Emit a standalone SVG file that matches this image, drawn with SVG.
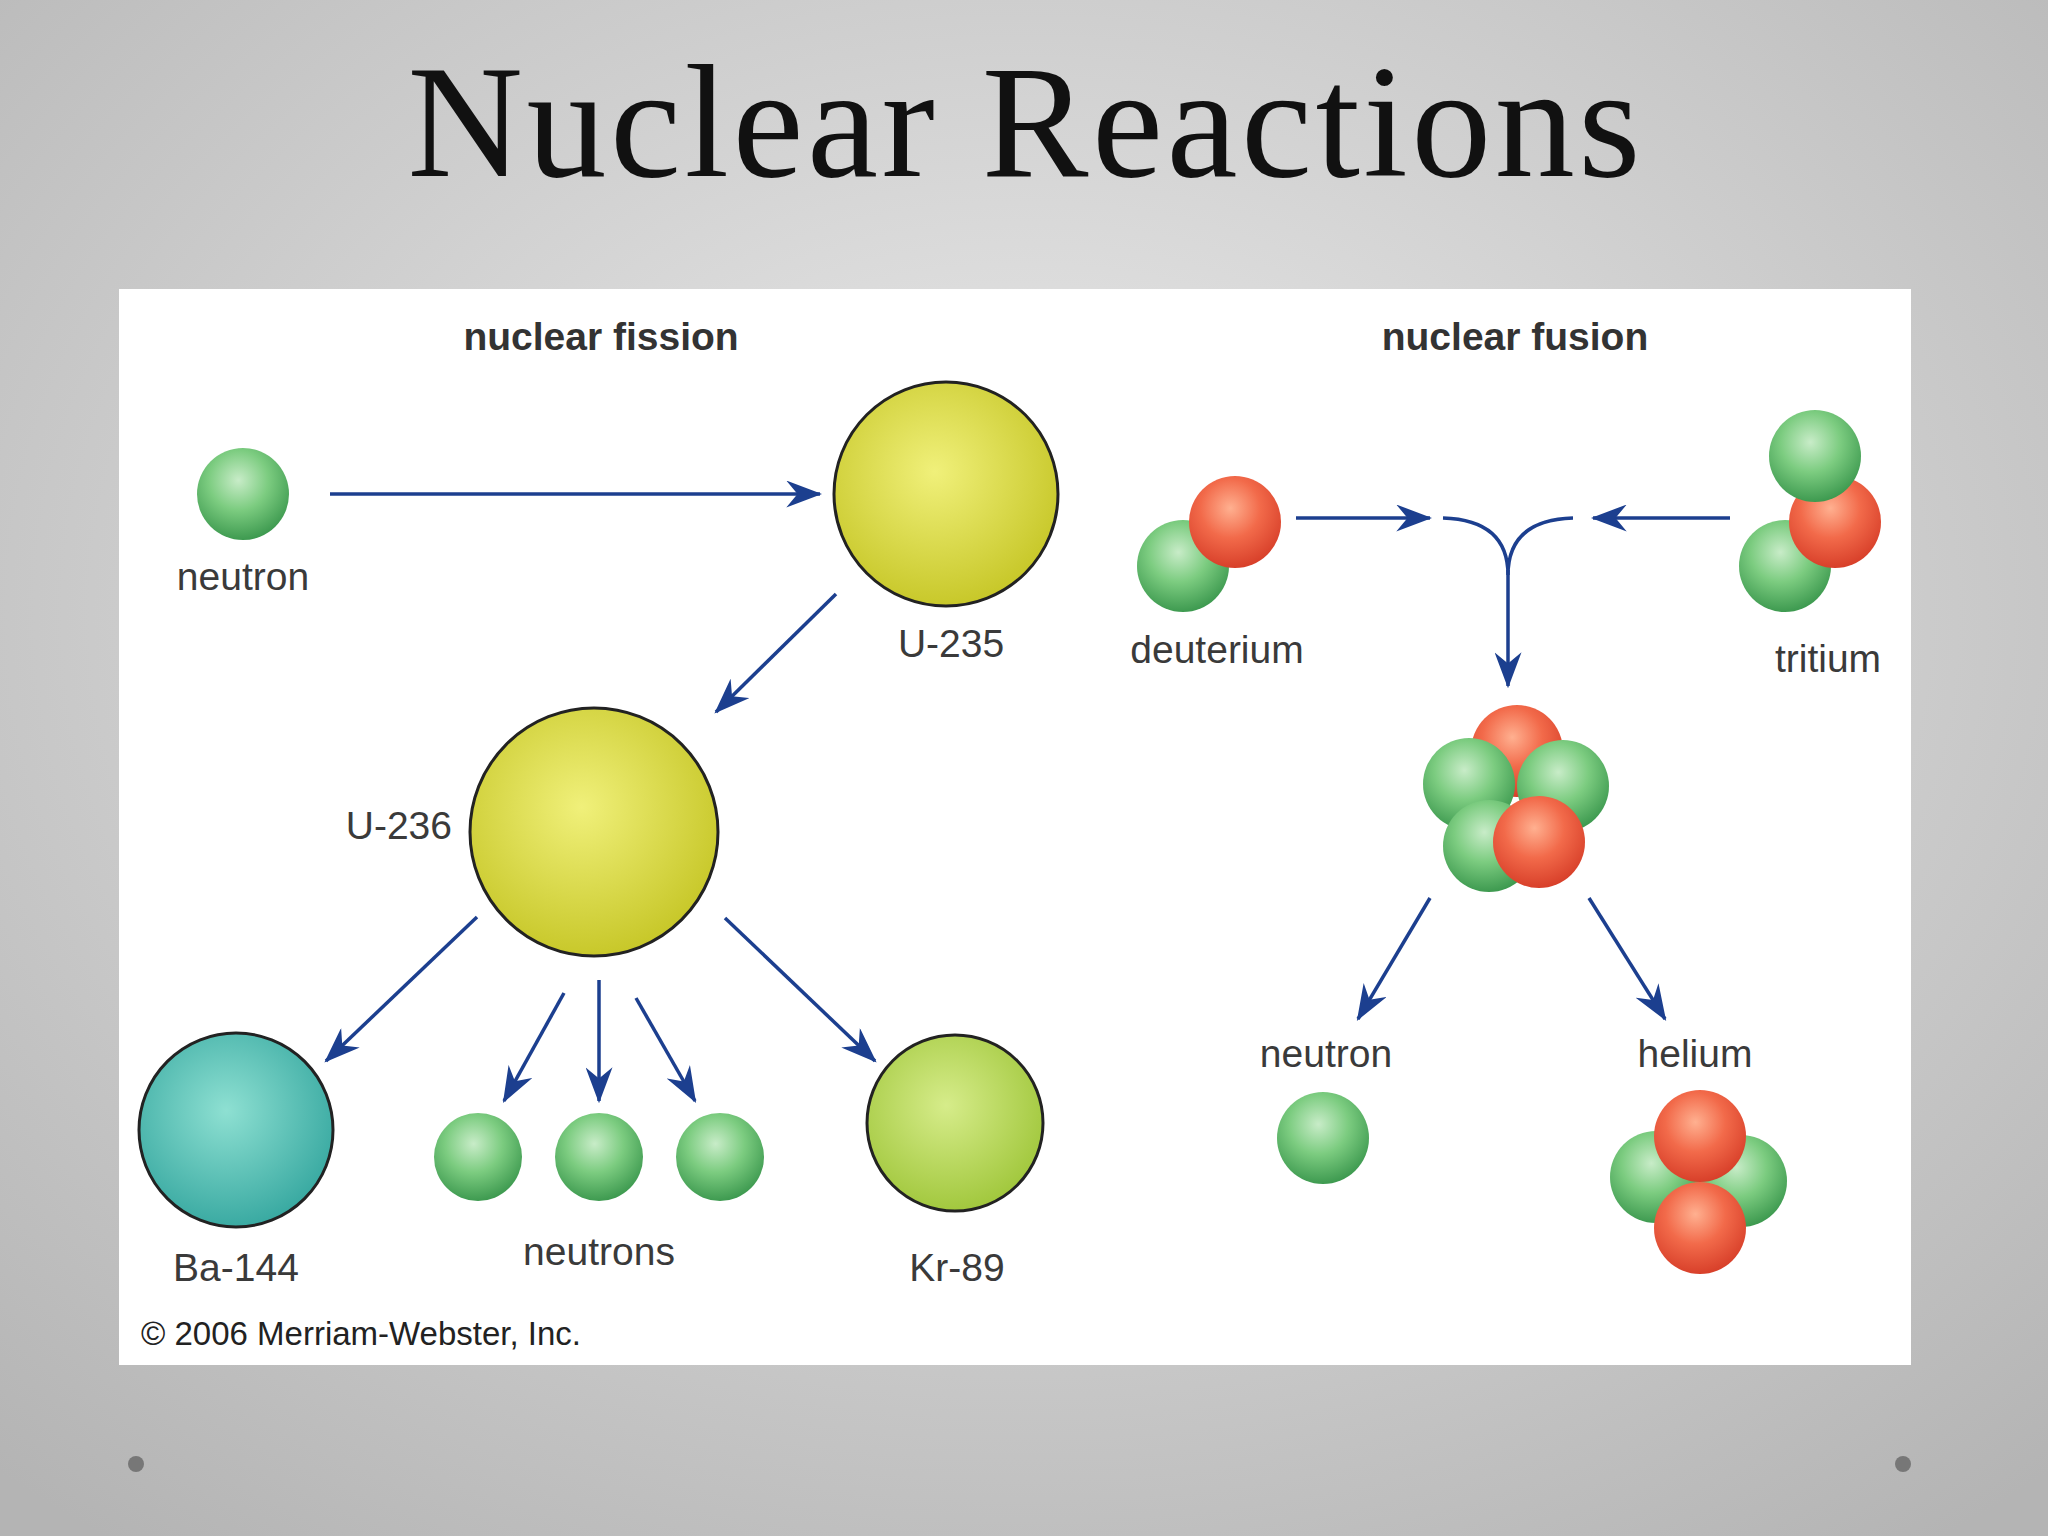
<svg xmlns="http://www.w3.org/2000/svg" width="2048" height="1536" viewBox="0 0 2048 1536">
<defs>
<radialGradient id="bg" cx="50%" cy="40%" r="75%"><stop offset="0" stop-color="#ececec"/><stop offset="1" stop-color="#b4b4b4"/></radialGradient>
<radialGradient id="gr" cx="45%" cy="35%" r="65%"><stop offset="0" stop-color="#c8ecc8"/><stop offset="0.5" stop-color="#7ccc80"/><stop offset="1" stop-color="#3e9a50"/></radialGradient>
<radialGradient id="rd" cx="45%" cy="35%" r="65%"><stop offset="0" stop-color="#ffb090"/><stop offset="0.5" stop-color="#f26a4a"/><stop offset="1" stop-color="#d8402a"/></radialGradient>
<radialGradient id="yl" cx="45%" cy="40%" r="60%"><stop offset="0" stop-color="#f0f07a"/><stop offset="1" stop-color="#c8c82a"/></radialGradient>
<radialGradient id="tl" cx="45%" cy="40%" r="60%"><stop offset="0" stop-color="#8ee0d2"/><stop offset="1" stop-color="#3aaaa2"/></radialGradient>
<radialGradient id="kr" cx="45%" cy="40%" r="60%"><stop offset="0" stop-color="#d6ec8a"/><stop offset="1" stop-color="#a2c83e"/></radialGradient>
<marker id="ah" viewBox="0 0 16 12" refX="15" refY="6" markerWidth="16" markerHeight="12" markerUnits="userSpaceOnUse" orient="auto"><path d="M0,0 L16,6 L0,12 L5,6 z" fill="#1c3f8f"/></marker>
<marker id="ahb" viewBox="0 0 16 12" refX="15" refY="6" markerWidth="36" markerHeight="27" markerUnits="userSpaceOnUse" orient="auto"><path d="M0,0 L16,6 L0,12 L5,6 z" fill="#1c3f8f"/></marker>
<style>
.t{font-family:"Liberation Sans",Arial,sans-serif;font-size:39px;fill:#3a3a3a;text-anchor:middle}
.h{font-family:"Liberation Sans",Arial,sans-serif;font-size:39px;font-weight:bold;fill:#333;text-anchor:middle}
.a{stroke:#1c3f8f;stroke-width:3.5;fill:none;marker-end:url(#ahb)}
.big{stroke:#222;stroke-width:3}
</style>
</defs>
<rect width="2048" height="1536" fill="url(#bg)"/>
<text x="1024" y="176" font-family="'Liberation Serif',serif" font-size="160" text-anchor="middle" textLength="1233" fill="#111">Nuclear Reactions</text>
<rect x="119" y="289" width="1792" height="1076" fill="#fff"/>
<circle cx="136" cy="1464" r="8" fill="#777"/><circle cx="1903" cy="1464" r="8" fill="#777"/>
<text class="h" x="601" y="350">nuclear fission</text>
<text class="h" x="1515" y="350">nuclear fusion</text>
<g id="connectors">
<line class="a" x1="330" y1="494" x2="820" y2="494"/>
<line class="a" x1="836" y1="594" x2="716" y2="712"/>
<line class="a" x1="477" y1="917" x2="326" y2="1061"/>
<line class="a" x1="564" y1="993" x2="504" y2="1101"/>
<line class="a" x1="599" y1="980" x2="599" y2="1101"/>
<line class="a" x1="636" y1="998" x2="695" y2="1101"/>
<line class="a" x1="725" y1="918" x2="875" y2="1061"/>
<line class="a" x1="1296" y1="518" x2="1430" y2="518"/>
<line class="a" x1="1730" y1="518" x2="1593" y2="518"/>
<path d="M1443,518 Q1508,520 1508,575 Q1508,520 1573,518" stroke="#1c3f8f" stroke-width="3.5" fill="none"/>
<line class="a" x1="1508" y1="570" x2="1508" y2="686"/>
<line class="a" x1="1430" y1="898" x2="1358" y2="1019"/>
<line class="a" x1="1589" y1="898" x2="1665" y2="1019"/>
</g>
<g id="neutron1"><circle cx="243" cy="494" r="46" fill="url(#gr)"/><text class="t" x="243" y="590">neutron</text></g>
<g id="u235"><circle cx="946" cy="494" r="112" fill="url(#yl)" class="big"/><text class="t" x="951" y="657">U-235</text></g>
<g id="u236"><circle cx="594" cy="832" r="124" fill="url(#yl)" class="big"/><text class="t" x="452" y="839" text-anchor="end" style="text-anchor:end">U-236</text></g>
<g id="ba144"><circle cx="236" cy="1130" r="97" fill="url(#tl)" class="big"/><text class="t" x="236" y="1281">Ba-144</text></g>
<g id="neutrons"><circle cx="478" cy="1157" r="44" fill="url(#gr)"/><circle cx="599" cy="1157" r="44" fill="url(#gr)"/><circle cx="720" cy="1157" r="44" fill="url(#gr)"/><text class="t" x="599" y="1265">neutrons</text></g>
<g id="kr89"><circle cx="955" cy="1123" r="88" fill="url(#kr)" class="big"/><text class="t" x="957" y="1281">Kr-89</text></g>
<text x="141" y="1345" font-family="'Liberation Sans',Arial,sans-serif" font-size="33" fill="#222">© 2006 Merriam-Webster, Inc.</text>
<g id="deuterium"><circle cx="1183" cy="566" r="46" fill="url(#gr)"/><circle cx="1235" cy="522" r="46" fill="url(#rd)"/><text class="t" x="1217" y="663">deuterium</text></g>
<g id="tritium"><circle cx="1785" cy="566" r="46" fill="url(#gr)"/><circle cx="1835" cy="522" r="46" fill="url(#rd)"/><circle cx="1815" cy="456" r="46" fill="url(#gr)"/><text class="t" x="1828" y="672">tritium</text></g>
<g id="compound"><circle cx="1517" cy="751" r="46" fill="url(#rd)"/><circle cx="1469" cy="784" r="46" fill="url(#gr)"/><circle cx="1563" cy="786" r="46" fill="url(#gr)"/><circle cx="1489" cy="846" r="46" fill="url(#gr)"/><circle cx="1539" cy="842" r="46" fill="url(#rd)"/></g>
<g id="neutron2"><text class="t" x="1326" y="1067">neutron</text><circle cx="1323" cy="1138" r="46" fill="url(#gr)"/></g>
<g id="helium"><text class="t" x="1695" y="1067">helium</text><circle cx="1656" cy="1177" r="46" fill="url(#gr)"/><circle cx="1741" cy="1181" r="46" fill="url(#gr)"/><circle cx="1700" cy="1136" r="46" fill="url(#rd)"/><circle cx="1700" cy="1228" r="46" fill="url(#rd)"/></g>
</svg>
